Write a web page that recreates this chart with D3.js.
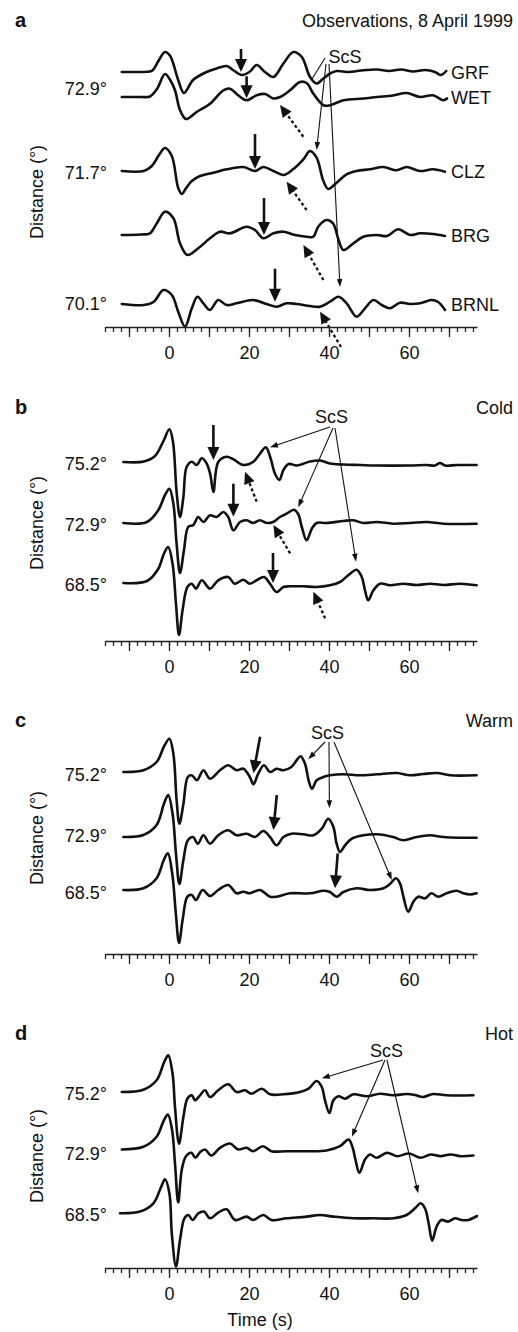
<!DOCTYPE html>
<html><head><meta charset="utf-8">
<script src="https://cdn.jsdelivr.net/npm/d3@7"></script>
<style>
body{margin:0;background:#fff;}
svg text{font-family:"Liberation Sans",Arial,Helvetica,sans-serif;fill:#111;}
</style></head><body>
<svg id="chart" width="518" height="1332"></svg>
<script>
// ---------- DATA ----------
const timeTickLabels = [0, 20, 40, 60];
const panelLetters = ["a", "b", "c", "d"];
const panelTitles = ["Observations, 8 April 1999", "Cold", "Warm", "Hot"];
const stationsA = ["GRF", "WET", "CLZ", "BRG", "BRNL"];
const distancesA = ["72.9°", "71.7°", "70.1°"];
const distancesModel = ["75.2°", "72.9°", "68.5°"];

// traces: [time (s), amplitude (arbitrary units, up positive)]
const aGRF = [[-11.8,0],[-7,0],[-4.75,0.5],[-4,2],[-2.5,12],[-1,20],[0.3,16],[2.3,-8],[3.75,-21],[6,-8],[8.6,-1.5],[11.9,3.5],[14.4,6],[16,2],[18.2,-3],[20.25,0.5],[21.9,7],[24,0],[26.1,-5],[28.6,8.5],[31.1,20],[33.2,15],[35.25,-5],[36.9,-11.5],[38.6,-6.5],[40.25,-1.5],[41.9,1],[45,0],[48,1.5],[52,2.5],[55,1],[58,2.5],[61,0.5],[64,2],[66.5,0],[68,-3],[69.3,1]];
const aWET = [[-11.8,0],[-7,0],[-4.75,0.5],[-3,8],[-1,23],[0.3,17],[1.5,6.7],[2.75,-13],[4.25,-22],[6.9,-15],[10.25,-6.7],[13.6,6.7],[15.25,8.3],[17.3,1.7],[19.4,-3.3],[21.9,1.7],[24,3],[26.1,-1.5],[27.75,0],[30.25,6.7],[32.75,15],[34.4,14],[36.1,3.3],[38.6,-8.3],[40.25,-8.3],[43.6,-3.3],[48.6,-1.5],[52,0],[56,1.5],[59.4,4],[62.75,0],[66,1.7],[68.6,-3.3],[69.5,-1.5]];
const aCLZ = [[-11.8,0],[-6.3,0],[-4.3,5],[-2.5,16],[-1,23],[0.7,15],[2.3,-17],[3.2,-23],[4.3,-17],[5.7,-10],[7.75,-5],[11.1,-1.7],[14.4,1.7],[18.6,4],[21.5,0],[23.6,4],[26.1,0],[28.6,-4],[31,1.7],[33.6,11.7],[35.25,20],[36.9,13.3],[38.6,-10],[39.8,-18],[41.9,-11.7],[44.4,-3.3],[46.9,0],[50.25,1.7],[53.6,4],[56.9,0.7],[59.4,4],[62.75,0],[66,1.7],[69,-0.7]];
const aBRG = [[-11.8,0],[-7,0.5],[-4.75,1.7],[-3,12],[-1,23.3],[1.1,16.7],[2.75,-8.3],[4.6,-20],[7.3,-13.3],[10.25,-3.3],[12.75,3.3],[15.25,1.7],[19.4,8.3],[21.5,5],[23.6,-3.3],[26.1,1.7],[28.6,3.3],[31.5,0],[34.4,-1.7],[36.1,-1.7],[37.3,8.3],[39.4,15],[41,11.7],[42.4,-5],[43.6,-15],[46.1,-8.3],[48.6,-1.7],[52,0],[54.5,-1],[57.3,5.7],[60.25,0],[62.75,1.7],[66,1],[69,-1]];
const aBRNL = [[-11.8,0],[-6.3,-1],[-3.8,2.3],[-1.4,14],[0.7,9],[2.3,-7.7],[4,-22.7],[5.7,-4.3],[7.1,7.3],[8.6,0.7],[10.25,-6],[12.3,4],[14.4,-1],[16.9,0.7],[21,4],[24.4,0],[26.9,-2.7],[29.4,0.7],[31.9,0],[35.25,-2],[37.75,-2.7],[40.25,2.3],[42.4,7.3],[44.4,0.7],[46.9,-12.7],[49,-4.3],[51.1,4],[53.2,-1],[55.25,-4.3],[57.75,1.3],[60.25,0],[62.75,0.7],[65.6,4],[67.3,2],[69,-6]];

const cold752 = [[-11.4,0],[-6.3,0.5],[-3.5,6],[-1.5,20],[0.1,32.7],[1,20],[1.9,-30],[2.75,-55],[3.6,-35],[4.4,-5],[5.7,0.3],[6.9,-3],[8.2,3.7],[9.4,-1.3],[10.3,-12],[11.1,-30],[12.3,0],[14.4,5.3],[16.1,2.7],[18.6,-3],[21.1,0.3],[22.7,8],[24.2,14.7],[25.3,5],[26.5,-11.7],[27.6,-18],[28.6,-8],[29.9,-2],[32,-3.5],[35.25,0.5],[37.75,1.5],[40.25,-1.5],[43.6,-2.5],[47.75,-3],[51.9,-3.5],[60.25,-3.5],[64.4,-3],[66.5,-3.5],[67.75,-1],[69,-3.5],[72,-3],[76.9,-3]];
const cold729 = [[-11.4,0],[-5.5,1],[-2.7,12.7],[-1,28],[0.1,34.3],[1.1,19],[1.9,-20.7],[2.75,-50],[3.75,-27],[4.8,-4],[6.1,-2],[7.3,6],[8.6,1],[10.25,7.7],[11.9,6],[13.6,11],[14.8,6],[16.1,-7.3],[17.75,1],[19.4,2.7],[21,0],[22.7,2.7],[24.4,0],[26,1],[27.75,6],[29.4,9.3],[31.25,13.3],[32.3,9],[33.2,-4],[34.4,-17.3],[35.7,-5.7],[36.9,0],[39.4,0],[43.6,2],[46.1,2.7],[48.6,0],[52,1],[56,-0.7],[60.25,0],[64.4,1],[68.6,-0.7],[76.9,-0.7]];
const cold685 = [[-11.4,0],[-5.5,2],[-2.7,14],[-1.2,30],[-0.2,36],[0.9,19],[1.75,-21],[2.5,-52],[3.4,-27],[4.6,-4],[5.7,-0.7],[6.75,-5.7],[8.2,2.7],[10.25,-5.7],[12.3,2.7],[14.8,6],[16.4,-0.7],[18.6,3.3],[20.2,-0.7],[21.9,2.7],[23.75,6],[25.25,-0.7],[26.9,-9],[28.6,-4],[30.25,-3.3],[33.6,-3.3],[36.9,-4],[40.25,-2.3],[42.75,1],[44.8,7.7],[46.9,13.3],[48.2,6],[49,-7.3],[49.8,-17.3],[51.1,-7.3],[52.75,-0.7],[55.25,-2.3],[58.6,-0.7],[61.9,-2],[65.25,-0.7],[68.6,-2],[72.75,-0.7],[76.9,-2.3]];

const warm752 = [[-11.4,0],[-6.4,1.7],[-3.1,10],[-1.2,26],[0.1,33.3],[1.1,18],[1.9,-28],[2.6,-51.7],[3.6,-32],[4.7,-5],[5.7,-3.3],[7,-8.3],[8.6,1.7],[10.25,-6.7],[12.75,1.7],[14.8,6.7],[16.9,1.7],[18.6,3.3],[20.2,-5],[21.1,-12.3],[22.3,-1.7],[23.75,6.7],[25.25,0],[26.9,3.3],[28.6,1.7],[30.6,5],[31.9,11.7],[32.9,15.7],[34,8.3],[34.9,-8.3],[35.75,-16.7],[36.9,-8.3],[38.6,-5],[40.25,-3.3],[43.6,-2.3],[47.75,-3.3],[52,-2.3],[57,-1],[60.25,-3.3],[63.5,-2],[67,-1],[70.25,-3.3],[76.9,-3.3]];
const warm729 = [[-11.4,0],[-6.4,2],[-3.1,12],[-1.2,34],[-0.2,42],[0.9,23],[1.75,-17],[2.6,-47],[3.6,-23],[4.7,-3.3],[6,0],[7.2,-6.7],[8.6,1.7],[10.25,-6.7],[12.3,1.7],[14.8,6.7],[16.9,1.7],[19.4,3.3],[21.5,0],[23.6,6],[25.25,0],[26.9,-8.3],[28.6,0],[30.6,3.3],[33.6,2.7],[36.1,1.7],[38.2,8.3],[39.8,18.3],[41.1,10],[41.9,-6.7],[42.75,-15],[44,-8.3],[45.7,-1.7],[48.6,1.7],[52,2.7],[56,0],[58.6,-3.3],[61.9,0],[65.25,1.7],[68.6,0],[72.75,-0.7],[76.9,-0.7]];
const warm685 = [[-11.4,0],[-6.4,1.7],[-3.1,11.7],[-1.3,30],[-0.3,36.7],[0.8,16.7],[1.7,-23],[2.5,-53],[3.4,-30],[4.6,-6.7],[5.7,-5],[6.75,-10],[8.4,0],[10.25,-6],[12.3,0],[14.8,5],[16.9,-3.3],[18.6,-1.7],[20.2,-3.3],[22.7,0],[25.25,-6.7],[26.9,-6.7],[30.25,-3.3],[35.25,-3.3],[38.6,-0.7],[40.25,-2],[41.9,-6.7],[43.6,-2],[46.9,1.7],[50.25,0],[53.6,1.7],[55.25,6],[56.75,11.7],[57.75,6.7],[58.6,-6.7],[59.8,-21.7],[61.1,-11.7],[62.3,-6.7],[64,-8.3],[65.6,-3.3],[67.3,-6.7],[69.4,-3.3],[71.9,-0.7],[73.6,-3.3],[75.25,-4.5],[76.9,-3.3]];

const hot752 = [[-11.8,0],[-6.4,2.3],[-3.1,11.7],[-1.2,30],[-0.2,36.7],[0.9,18],[1.5,-15],[2.5,-51.7],[3.6,-25],[4.6,-6.7],[5.7,-3.3],[6.5,-8.3],[7.75,-3.3],[9,1.7],[10.25,-5],[12.3,1.7],[14.8,7.7],[16.9,0],[19,1.7],[20.6,-1.7],[23.2,3.3],[25.25,-2.3],[28.6,-2.3],[32.75,0],[34.9,3.3],[36.9,11],[38.2,5],[39,-8.3],[40.1,-21],[41.1,-8.3],[42.4,-4.3],[44,-6.7],[46.1,-2.3],[49.5,-4.3],[52.75,-1.7],[56,-3.3],[59.4,-2],[61.5,-3],[63.5,-5],[66,-2],[69.4,-3.3],[76.1,-3.3]];
const hot729 = [[-11.8,0],[-6.4,2.7],[-3.1,12.7],[-1.3,29],[-0.3,35],[0.75,20],[1.5,-14],[2.3,-53],[3.2,-20],[4.25,-6.7],[5.6,-3.3],[6.6,-8.3],[7.75,-2.7],[9,0],[10.6,-6],[12.75,1.7],[15.25,6],[17.3,0],[19.4,1.7],[21,-1.7],[23.5,3.3],[25.6,-1.7],[29.4,-1.7],[34.4,-1.7],[39.4,-1],[42.75,3.3],[44.9,10],[45.9,2],[46.6,-10],[47.6,-23.3],[49,-10],[50.25,-5],[51.9,-8.3],[54.5,-3.3],[57,-6.7],[60,-4],[62.9,-8.3],[65.4,-5],[67.9,-6.7],[70.4,-5],[72.9,-6.7],[76.1,-6]];
const hot685 = [[-12.25,0],[-7.25,1.7],[-3.9,10],[-2,26],[-1,34],[0.1,20],[0.7,-20],[1.75,-53.3],[2.75,-26.7],[3.85,-5],[4.8,-1.7],[5.9,-6.7],[7.3,0],[8.75,1.7],[10.25,-5],[12.3,0.7],[14.4,4],[16.5,-6.7],[19.4,-3.3],[21,-6.7],[23.6,-1.7],[25.6,-6.7],[29.4,-5],[34.4,-3.3],[37.75,-1.7],[41.1,-3.3],[46.1,-5],[51.1,-5],[56.1,-5],[59.4,-1.7],[61.5,5],[62.9,10],[64,5],[64.9,-10],[65.8,-27.3],[66.9,-13.3],[68.1,-6.7],[69.8,-8.3],[71.5,-5],[73.1,-6.7],[74.8,-6.7],[77,-2.7]];

// annotations: [trace index, time, amplitude at arrow tip]
const solidArrowsA = [[0,18,0],[1,19.4,-1.3],[2,21.5,2],[3,23.75,0],[4,26.5,2.3]];
const dashedArrowsA = [[1,27.75,-8],[2,29.4,-10.7],[3,33.6,-10],[4,37.75,-7.7]];
const scsTargetsA = [[0,35.75,-7],[2,36.9,21],[4,42.75,17]];
const solidArrowsB = [[0,11.1,2],[1,16.1,6.3],[2,26,0]];
const dashedArrowsB = [[0,19,-9.7],[1,26.1,-2],[2,36.1,-8.7]];
const scsTargetsB = [[0,25.25,14.7],[1,32.3,15.7],[2,46.75,21.3]];
const solidArrowsC = [[0,21.1,-1.3],[1,26.1,7],[2,41.5,1.7]];
const scsTargetsC = [[0,34.8,12.7],[1,40.1,28.7],[2,55.7,10]];
const scsTargetsD = [[0,38.2,13.7],[1,45.7,12.8],[2,62.3,20]];

// ---------- LAYOUT ----------
const W = 518;
const x = d3.scaleLinear().domain([-16, 77]).range([105, 477]);
const FONT = 18;

const panels = [
  { letter: panelLetters[0], title: panelTitles[0], headY: 27, axisY: 327, distY: 192,
    traces: [aGRF, aWET, aCLZ, aBRG, aBRNL], bases: [72, 97, 171, 235, 304],
    stationLabels: stationsA, distLabels: [[distancesA[0], 95], [distancesA[1], 179], [distancesA[2], 310]],
    scs: { t: 44, y: 63, from: [[325, 58, false], [326, 64, true], [329, 64, true]], targets: scsTargetsA },
    solid: solidArrowsA, solidLen: [23, 22, 35, 37, 33], solidTail: null,
    dashed: dashedArrowsA, dashTail: [[23.3, 31.7], [20, 28.3], [20, 35], [21, 35.3]] },
  { letter: panelLetters[1], title: panelTitles[1], headY: 414, axisY: 641, distY: 523,
    traces: [cold752, cold729, cold685], bases: [462, 523, 583],
    distLabels: [[distancesModel[0], 470], [distancesModel[1], 531], [distancesModel[2], 591]],
    scs: { t: 40.6, y: 423, from: [[330, 427], [333, 428], [335, 428]], targets: scsTargetsB },
    solid: solidArrowsB, solidLen: [35, 33, 30],
    dashed: dashedArrowsB, dashTail: [[11.7, 30], [16.7, 28.3], [11.7, 26.7]] },
  { letter: panelLetters[2], title: panelTitles[2], headY: 727, axisY: 954, distY: 838,
    traces: [warm752, warm729, warm685], bases: [772, 837, 890],
    distLabels: [[distancesModel[0], 781], [distancesModel[1], 842], [distancesModel[2], 899]],
    scs: { t: 39.6, y: 739, from: [[325, 742], [329, 742], [334, 742]], targets: scsTargetsC },
    solid: solidArrowsC, solidLen: [37, 35, 35], solidTail: [[6.7, -36.6], [3.4, -35], [2.7, -35]],
    dashed: [], dashTail: [] },
  { letter: panelLetters[3], title: panelTitles[3], headY: 1040, axisY: 1268, distY: 1156,
    traces: [hot752, hot729, hot685], bases: [1092, 1149.5, 1213.3],
    distLabels: [[distancesModel[0], 1100], [distancesModel[1], 1160], [distancesModel[2], 1221]],
    scs: { t: 54.4, y: 1057, from: [[383, 1060], [385, 1060], [387, 1060]], targets: scsTargetsD },
    solid: [], solidLen: [], dashed: [], dashTail: [], timeTitle: "Time (s)" }
];

const svg = d3.select("#chart");
svg.append("rect").attr("width", W).attr("height", 1332).attr("fill", "#fff");

function head(g, tip, from, len, hw) {
  const dx = tip[0] - from[0], dy = tip[1] - from[1], L = Math.hypot(dx, dy);
  const ux = dx / L, uy = dy / L, bx = tip[0] - ux * len, by = tip[1] - uy * len;
  const px = -uy, py = ux;
  g.append("path")
    .attr("d", `M${tip[0]},${tip[1]}L${bx + px * hw},${by + py * hw}L${bx - px * hw},${by - py * hw}Z`)
    .attr("fill", "#111");
  return [bx + ux * 1.5, by + uy * 1.5];
}

panels.forEach(p => {
  const g = svg.append("g");
  const yScales = p.bases.map(b => d3.scaleLinear().domain([0, 10]).range([b, b - 10]));

  g.append("text").attr("x", 15).attr("y", p.headY).attr("font-size", 20).attr("font-weight", "bold").text(p.letter);
  g.append("text").attr("x", 513).attr("y", p.headY).attr("text-anchor", "end").attr("font-size", FONT).text(p.title);

  g.append("text").attr("transform", `translate(43,${p.distY}) rotate(-90)`).attr("text-anchor", "middle")
    .attr("font-size", FONT).text("Distance (°)");

  p.distLabels.forEach(([t, yy]) => {
    g.append("text").attr("x", 107).attr("y", yy).attr("text-anchor", "end").attr("font-size", FONT).text(t);
  });

  p.traces.forEach((tr, i) => {
    const ys = yScales[i];
    g.append("path").datum(tr)
      .attr("d", d3.line().x(d => x(d[0])).y(d => ys(d[1])).curve(d3.curveCatmullRom.alpha(0.5)))
      .attr("fill", "none").attr("stroke", "#111").attr("stroke-width", 2.6)
      .attr("stroke-linejoin", "round").attr("stroke-linecap", "round");
    if (p.stationLabels) {
      g.append("text").attr("x", 451).attr("y", p.bases[i] + 7).attr("font-size", FONT).text(p.stationLabels[i]);
    }
  });

  g.append("text").attr("x", x(p.scs.t)).attr("y", p.scs.y).attr("text-anchor", "middle").attr("font-size", FONT).text("ScS");
  p.scs.targets.forEach((tg, k) => {
    const [ti, t, a] = tg;
    const tip = [x(t), yScales[ti](a)];
    const fr = p.scs.from[k];
    const useHead = fr[2] !== false;
    let end = tip;
    if (useHead) end = head(g, tip, fr, 8, 2.8);
    g.append("line").attr("x1", fr[0]).attr("y1", fr[1]).attr("x2", end[0]).attr("y2", end[1])
      .attr("stroke", "#111").attr("stroke-width", 1.1);
  });

  p.solid.forEach((s, k) => {
    const [ti, t, a] = s;
    const tip = [x(t), yScales[ti](a)];
    const off = p.solidTail ? p.solidTail[k] : [0, -p.solidLen[k]];
    const tail = [tip[0] + off[0], tip[1] + off[1]];
    const base = head(g, tip, tail, 13, 6);
    g.append("line").attr("x1", tail[0]).attr("y1", tail[1]).attr("x2", base[0]).attr("y2", base[1])
      .attr("stroke", "#111").attr("stroke-width", 2.6);
  });

  p.dashed.forEach((s, k) => {
    const [ti, t, a] = s;
    const tip = [x(t), yScales[ti](a)];
    const off = p.dashTail[k];
    const tail = [tip[0] + off[0], tip[1] + off[1]];
    const base = head(g, tip, tail, 12, 5.5);
    g.append("line").attr("x1", tail[0]).attr("y1", tail[1]).attr("x2", base[0]).attr("y2", base[1])
      .attr("stroke", "#111").attr("stroke-width", 2.3).attr("stroke-dasharray", "3,2.6");
  });

  const minor = g.append("g").attr("transform", `translate(0,${p.axisY})`)
    .call(d3.axisBottom(x).tickValues(d3.range(-16, 77, 2)).tickSize(5).tickSizeOuter(0).tickFormat(""));
  const major = g.append("g").attr("transform", `translate(0,${p.axisY})`)
    .call(d3.axisBottom(x).tickValues(d3.range(-10, 71, 10)).tickSize(10).tickSizeOuter(0).tickPadding(9)
      .tickFormat(d => timeTickLabels.includes(d) ? d : ""));
  major.select(".domain").remove();
  [minor, major].forEach(a => {
    a.selectAll("path,line").attr("stroke", "#222").attr("stroke-width", 1.3);
    a.selectAll("text").attr("font-size", FONT).attr("font-family", '"Liberation Sans",Arial,sans-serif').attr("fill", "#111");
  });
  if (p.timeTitle) {
    g.append("text").attr("x", 260).attr("y", 1326).attr("text-anchor", "middle").attr("font-size", FONT).text(p.timeTitle);
  }
});
</script>
</body></html>
